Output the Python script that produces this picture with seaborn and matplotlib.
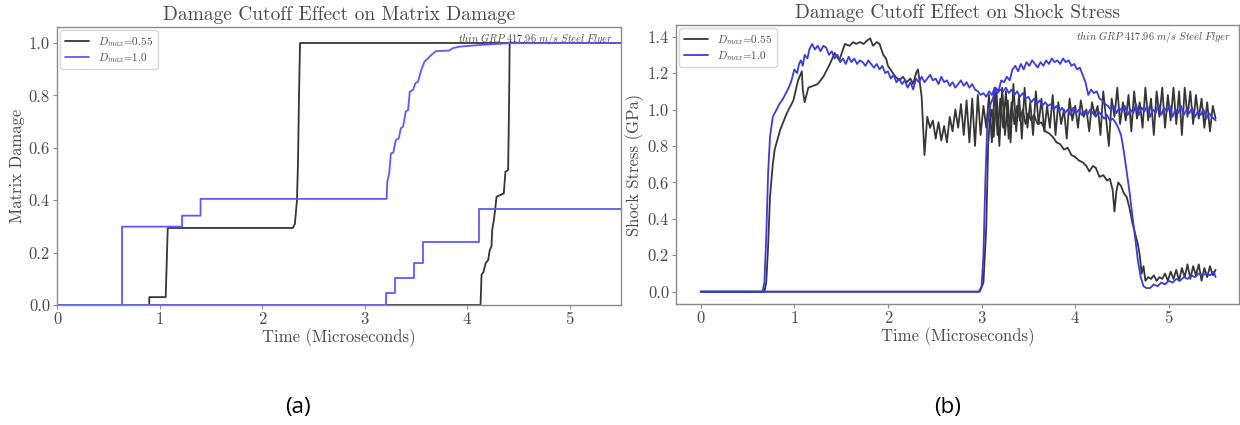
import numpy as np
import pandas as pd
import matplotlib
matplotlib.use("Agg")
import matplotlib.pyplot as plt
import seaborn as sns

# ---------------- data: panel (a) Matrix Damage ----------------
a_black1_t = [0.0, 0.90, 0.90, 1.06, 1.08, 2.30, 2.32, 2.34, 2.35, 2.36, 2.37, 5.5]
a_black1_v = [0.0, 0.0, 0.03, 0.03, 0.294, 0.294, 0.31, 0.40, 0.54, 0.80, 1.0, 1.0]

a_black2_t = [0.0, 4.13, 4.14, 4.16, 4.18, 4.205, 4.22, 4.237, 4.244, 4.26,
              4.276, 4.286, 4.324, 4.357, 4.373, 4.399, 4.405, 4.411, 4.414, 5.5]
a_black2_v = [0.0, 0.0, 0.115, 0.127, 0.159, 0.172, 0.21, 0.223, 0.286, 0.324,
              0.375, 0.413, 0.42, 0.426, 0.509, 0.515, 0.668, 0.859, 1.0, 1.0]

a_blue1_t = [0.0, 0.634, 0.634, 1.22, 1.22, 1.40, 1.40,
             3.214, 3.221, 3.24, 3.256, 3.279, 3.304, 3.333, 3.352, 3.375,
             3.401, 3.424, 3.44, 3.472, 3.494, 3.52, 3.552, 3.584, 3.617,
             3.649, 3.697, 3.825, 3.858, 3.922, 4.115, 4.405, 5.5]
a_blue1_v = [0.0, 0.0, 0.299, 0.299, 0.341, 0.341, 0.405,
             0.405, 0.471, 0.503, 0.579, 0.581, 0.630, 0.636, 0.674, 0.681,
             0.738, 0.744, 0.814, 0.821, 0.846, 0.852, 0.897, 0.929, 0.941,
             0.954, 0.969, 0.971, 0.980, 0.986, 0.992, 0.999, 1.0]

a_blue2_t = [0.0, 3.208, 3.208, 3.30, 3.30, 3.48, 3.48, 3.568, 3.568, 4.115, 4.115, 5.5]
a_blue2_v = [0.0, 0.0, 0.045, 0.045, 0.102, 0.102, 0.161, 0.161, 0.242, 0.242, 0.365, 0.365]

# ---------------- data: panel (b) Shock Stress ----------------
b_black1_t = [0.00, 0.68, 0.70, 0.72, 0.74, 0.77, 0.79, 0.85, 0.92, 0.99,
              1.04, 1.08, 1.09, 1.11, 1.15, 1.20, 1.25, 1.31, 1.38, 1.43,
              1.48, 1.54, 1.59, 1.63, 1.66, 1.70, 1.74, 1.78, 1.81, 1.84,
              1.88, 1.91, 1.95, 1.98, 2.00, 2.04, 2.08, 2.12, 2.16, 2.20,
              2.24, 2.27, 2.30, 2.32, 2.34, 2.36, 2.38, 2.39, 2.42, 2.45,
              2.48, 2.51, 2.54, 2.57, 2.60, 2.63, 2.66, 2.69, 2.72, 2.75,
              2.78, 2.81, 2.84, 2.87, 2.90, 2.93, 2.96, 2.99, 3.02, 3.05,
              3.08, 3.11, 3.14, 3.17, 3.20, 3.23, 3.26, 3.29, 3.32, 3.35,
              3.38, 3.41, 3.44, 3.47, 3.50, 3.53, 3.56, 3.60, 3.64, 3.68,
              3.72, 3.76, 3.80, 3.84, 3.88, 3.92, 3.96, 4.00, 4.04, 4.08,
              4.12, 4.15, 4.19, 4.22, 4.26, 4.30, 4.34, 4.37, 4.40, 4.42,
              4.44, 4.46, 4.49, 4.52, 4.55, 4.58, 4.61, 4.64, 4.67, 4.69,
              4.71, 4.73, 4.75, 4.78, 4.81, 4.84, 4.87, 4.90, 4.93, 4.96,
              4.99, 5.02, 5.05, 5.08, 5.11, 5.14, 5.17, 5.20, 5.23, 5.26,
              5.29, 5.32, 5.35, 5.38, 5.41, 5.44, 5.47, 5.50]
b_black1_v = [0.00, 0.00, 0.05, 0.25, 0.52, 0.70, 0.78, 0.89, 0.98, 1.05,
              1.16, 1.21, 1.11, 1.04, 1.12, 1.13, 1.14, 1.18, 1.25, 1.31,
              1.27, 1.36, 1.35, 1.37, 1.36, 1.37, 1.36, 1.38, 1.39, 1.35,
              1.37, 1.36, 1.30, 1.28, 1.24, 1.21, 1.18, 1.16, 1.18, 1.15,
              1.17, 1.14, 1.20, 1.22, 1.15, 1.07, 0.85, 0.75, 0.96, 0.90,
              0.94, 0.84, 0.93, 0.83, 0.91, 0.82, 0.96, 0.88, 1.00, 0.90,
              1.03, 0.86, 1.05, 0.82, 1.06, 0.80, 1.08, 0.86, 1.02, 0.90,
              1.08, 0.82, 1.12, 0.86, 1.06, 0.90, 1.10, 0.84, 1.04, 0.92,
              1.02, 0.94, 1.00, 0.92, 0.98, 0.94, 0.97, 0.92, 0.93, 0.88,
              0.87, 0.85, 0.82, 0.81, 0.78, 0.79, 0.75, 0.74, 0.72, 0.71,
              0.69, 0.66, 0.69, 0.68, 0.63, 0.64, 0.61, 0.62, 0.56, 0.44,
              0.55, 0.60, 0.58, 0.54, 0.52, 0.46, 0.38, 0.32, 0.26, 0.20,
              0.10, 0.14, 0.06, 0.08, 0.07, 0.09, 0.06, 0.08, 0.07, 0.10,
              0.06, 0.11, 0.07, 0.12, 0.06, 0.13, 0.08, 0.15, 0.07, 0.14,
              0.09, 0.15, 0.06, 0.13, 0.08, 0.14, 0.09, 0.12]

b_black2_t = [0.00, 2.98, 3.02, 3.05, 3.07, 3.09, 3.11,
              3.13, 3.16, 3.19, 3.22, 3.25, 3.28, 3.31, 3.34, 3.37, 3.40,
              3.43, 3.46, 3.49, 3.52, 3.55, 3.58, 3.61, 3.64, 3.67, 3.70,
              3.73, 3.76, 3.79, 3.82, 3.85, 3.88, 3.91, 3.94, 3.97, 4.00,
              4.03, 4.06, 4.09, 4.12, 4.15, 4.18, 4.21, 4.24, 4.27, 4.30,
              4.33, 4.36, 4.39, 4.42, 4.45, 4.48, 4.51, 4.54, 4.57, 4.60,
              4.63, 4.66, 4.69, 4.72, 4.75, 4.78, 4.81, 4.84, 4.87, 4.90,
              4.93, 4.96, 4.99, 5.02, 5.05, 5.08, 5.11, 5.14, 5.17, 5.20,
              5.23, 5.26, 5.29, 5.32, 5.35, 5.38, 5.41, 5.44, 5.47, 5.50]
b_black2_v = [0.00, 0.00, 0.05, 0.35, 0.80, 0.95, 1.00,
              0.85, 1.10, 0.80, 1.12, 0.86, 1.05, 0.82, 1.14, 0.88, 1.08,
              0.84, 1.12, 0.90, 1.04, 0.86, 1.10, 0.92, 1.06, 0.88, 1.02,
              0.90, 1.08, 0.86, 1.04, 0.92, 1.00, 0.84, 1.06, 0.94, 1.02,
              0.90, 1.05, 0.96, 1.00, 0.88, 1.04, 0.97, 1.02, 0.86, 1.10,
              0.95, 0.80, 1.06, 0.96, 1.12, 0.92, 1.04, 0.94, 1.08, 0.88,
              1.10, 0.95, 1.04, 0.90, 1.12, 0.94, 1.06, 0.86, 1.10, 0.96,
              1.12, 0.90, 1.08, 0.94, 1.12, 0.92, 1.10, 0.86, 1.12, 0.96,
              1.10, 0.92, 1.08, 0.95, 1.06, 0.90, 1.04, 0.88, 1.02, 0.95]

b_blue1_t = [0.00, 0.66, 0.68, 0.70, 0.72, 0.74, 0.77, 0.80, 0.84, 0.88,
             0.91, 0.94, 0.97, 1.00, 1.03, 1.05, 1.07, 1.09, 1.11, 1.14,
             1.16, 1.19, 1.22, 1.25, 1.28, 1.31, 1.34, 1.37, 1.40, 1.43,
             1.46, 1.49, 1.52, 1.55, 1.58, 1.61, 1.64, 1.67, 1.70, 1.73,
             1.76, 1.79, 1.82, 1.85, 1.88, 1.91, 1.94, 1.97, 2.00, 2.03,
             2.06, 2.09, 2.12, 2.15, 2.18, 2.21, 2.24, 2.27, 2.30, 2.33,
             2.36, 2.39, 2.42, 2.45, 2.48, 2.51, 2.54, 2.57, 2.60, 2.63,
             2.66, 2.69, 2.72, 2.75, 2.78, 2.81, 2.84, 2.87, 2.90, 2.93,
             2.96, 2.99, 3.02, 3.05, 3.08, 3.11, 3.14, 3.17, 3.20, 3.23,
             3.26, 3.29, 3.32, 3.35, 3.38, 3.41, 3.44, 3.47, 3.50, 3.53,
             3.56, 3.59, 3.62, 3.65, 3.68, 3.71, 3.74, 3.77, 3.80, 3.83,
             3.86, 3.89, 3.92, 3.95, 3.98, 4.01, 4.04, 4.07, 4.10, 4.13,
             4.16, 4.19, 4.22, 4.25, 4.28, 4.31, 4.34, 4.37, 4.40, 4.43,
             4.46, 4.49, 4.52, 4.55, 4.58, 4.61, 4.64, 4.67, 4.70, 4.73,
             4.76, 4.80, 4.84, 4.88, 4.92, 4.96, 5.00, 5.04, 5.08, 5.12,
             5.16, 5.20, 5.24, 5.28, 5.32, 5.36, 5.40, 5.44, 5.48, 5.50]
b_blue1_v = [0.00, 0.00, 0.05, 0.30, 0.65, 0.85, 0.96, 0.99, 1.03, 1.06,
             1.09, 1.12, 1.16, 1.22, 1.20, 1.25, 1.27, 1.24, 1.30, 1.28,
             1.33, 1.36, 1.33, 1.35, 1.32, 1.35, 1.34, 1.30, 1.32, 1.28,
             1.30, 1.26, 1.28, 1.25, 1.29, 1.26, 1.28, 1.25, 1.27, 1.26,
             1.24, 1.27, 1.25, 1.23, 1.25, 1.22, 1.24, 1.20, 1.21, 1.17,
             1.19, 1.15, 1.17, 1.14, 1.16, 1.12, 1.15, 1.11, 1.17, 1.15,
             1.18, 1.15, 1.17, 1.19, 1.16, 1.17, 1.14, 1.18, 1.15, 1.16,
             1.13, 1.15, 1.12, 1.14, 1.16, 1.13, 1.15, 1.12, 1.14, 1.11,
             1.10, 1.08, 1.09, 1.07, 1.10, 1.08, 1.12, 1.09, 1.11, 1.10,
             1.12, 1.09, 1.11, 1.08, 1.10, 1.07, 1.09, 1.06, 1.07, 1.04,
             1.06, 1.03, 1.05, 1.02, 1.04, 1.02, 1.03, 1.00, 1.02, 0.99,
             1.01, 0.98, 1.00, 0.97, 1.01, 0.98, 1.00, 0.97, 0.99, 0.97,
             1.00, 0.98, 0.96, 0.99, 0.97, 0.95, 0.97, 0.94, 0.95, 0.93,
             0.90, 0.86, 0.77, 0.66, 0.55, 0.42, 0.30, 0.17, 0.08, 0.03,
             0.02, 0.02, 0.04, 0.03, 0.05, 0.04, 0.06, 0.05, 0.07, 0.06,
             0.08, 0.07, 0.09, 0.08, 0.10, 0.09, 0.10, 0.09, 0.11, 0.08]

b_blue2_t = [0.00, 2.97, 3.00, 3.02, 3.04, 3.06, 3.09, 3.12, 3.15, 3.18,
             3.21, 3.24, 3.27, 3.30, 3.33, 3.36, 3.39, 3.42, 3.45, 3.48,
             3.51, 3.54, 3.57, 3.60, 3.63, 3.66, 3.69, 3.72, 3.75, 3.78,
             3.81, 3.84, 3.87, 3.90, 3.93, 3.96, 3.99, 4.02, 4.05, 4.08,
             4.11, 4.14, 4.17, 4.20, 4.23, 4.26, 4.29, 4.32, 4.35, 4.38,
             4.41, 4.44, 4.47, 4.50, 4.53, 4.56, 4.59, 4.62, 4.65, 4.68,
             4.71, 4.74, 4.77, 4.80, 4.83, 4.86, 4.89, 4.92, 4.95, 4.98,
             5.01, 5.04, 5.07, 5.10, 5.13, 5.16, 5.19, 5.22, 5.25, 5.28,
             5.31, 5.34, 5.37, 5.40, 5.43, 5.46, 5.50]
b_blue2_v = [0.00, 0.00, 0.03, 0.20, 0.60, 0.90, 1.02, 1.06, 1.12, 1.10,
             1.16, 1.15, 1.18, 1.16, 1.22, 1.24, 1.21, 1.25, 1.22, 1.26,
             1.24, 1.27, 1.25, 1.23, 1.26, 1.24, 1.27, 1.25, 1.28, 1.26,
             1.27, 1.25, 1.28, 1.26, 1.27, 1.24, 1.25, 1.22, 1.23, 1.19,
             1.15, 1.08, 1.11, 1.09, 1.10, 1.06, 1.05, 1.03, 1.02, 1.00,
             1.02, 0.98, 1.01, 0.99, 1.02, 0.97, 1.00, 0.98, 1.03, 0.97,
             1.01, 0.99, 1.02, 0.96, 1.00, 0.98, 1.03, 0.97, 1.01, 0.99,
             1.02, 0.96, 1.00, 0.98, 1.02, 0.97, 1.00, 0.98, 1.01, 0.96,
             0.99, 0.97, 1.00, 0.95, 0.98, 0.96, 0.94]

legend_labels = [r"$D_{max}$=0.55", r"$D_{max}$=1.0"]
titles = ["Damage Cutoff Effect on Matrix Damage", "Damage Cutoff Effect on Shock Stress"]
ylabels = ["Matrix Damage", "Shock Stress (GPa)"]
xlabel = "Time (Microseconds)"
note = r"$\mathit{thin\ GRP\ 417.96\ m/s\ Steel\ Flyer}$"
panel_tags = ["(a)", "(b)"]

# ---------------- style ----------------
sns.set_style("ticks")
plt.rcParams["font.family"] = ["cmr10", "DejaVu Serif"]
plt.rcParams["mathtext.fontset"] = "cm"
plt.rcParams["axes.formatter.use_mathtext"] = True
plt.rcParams["axes.unicode_minus"] = False

TXT = "#4a4a4a"
SPINE = "#8a8a8a"
BLACK = "#363636"
BLUE_A = "#5a5aff"
BLUE_B = "#3c3cdc"

fig = plt.figure(figsize=(12.4, 4.25), dpi=100)
W, H = 1240.0, 425.0
ax1 = fig.add_axes([57 / W, 1 - 305 / H, (621 - 57) / W, (305 - 27) / H])
ax2 = fig.add_axes([676 / W, 1 - 304 / H, (1239 - 676) / W, (304 - 25) / H])


def draw(ax, t, v, color, lw, label=None):
    df = pd.DataFrame({"t": t, "v": v})
    sns.lineplot(data=df, x="t", y="v", ax=ax, color=color, lw=lw,
                 sort=False, estimator=None, label=label)


# panel (a)
draw(ax1, a_black1_t, a_black1_v, BLACK, 1.3, legend_labels[0])
draw(ax1, a_black2_t, a_black2_v, BLACK, 1.3)
draw(ax1, a_blue1_t, a_blue1_v, BLUE_A, 1.3, legend_labels[1])
draw(ax1, a_blue2_t, a_blue2_v, BLUE_A, 1.3)
ax1.set_xlim(0, 5.5)
ax1.set_ylim(0, 1.061)
ax1.set_yticks([0.0, 0.2, 0.4, 0.6, 0.8, 1.0])
ax1.set_xticks([0, 1, 2, 3, 4, 5])

# panel (b)
draw(ax2, b_black1_t, b_black1_v, BLACK, 1.3, legend_labels[0])
draw(ax2, b_black2_t, b_black2_v, BLACK, 1.3)
draw(ax2, b_blue1_t, b_blue1_v, BLUE_B, 1.3, legend_labels[1])
draw(ax2, b_blue2_t, b_blue2_v, BLUE_B, 1.3)
ax2.set_xlim(-0.264, 5.75)
ax2.set_ylim(-0.0675, 1.464)
ax2.set_yticks([0.0, 0.2, 0.4, 0.6, 0.8, 1.0, 1.2, 1.4])
ax2.set_xticks([0, 1, 2, 3, 4, 5])

for i, ax in enumerate([ax1, ax2]):
    ax.set_title(titles[i], fontsize=14, color=TXT, pad=5)
    ax.set_xlabel(xlabel, fontsize=12, color=TXT, labelpad=1)
    ax.set_ylabel(ylabels[i], fontsize=12, color=TXT, labelpad=3)
    ax.tick_params(axis="both", labelsize=12, colors=TXT, length=3,
                   width=0.8, color=SPINE, pad=2)
    for s in ax.spines.values():
        s.set_color(SPINE)
        s.set_linewidth(1.0)
    ax.yaxis.set_major_formatter(matplotlib.ticker.FormatStrFormatter("%.1f"))
    ax.xaxis.set_major_formatter(matplotlib.ticker.FormatStrFormatter("%d"))
    leg = ax.legend(loc="upper left", fontsize=8, frameon=True,
                    handlelength=2.2, borderpad=0.4, labelspacing=0.2,
                    borderaxespad=0.3, fancybox=True)
    leg.get_frame().set_edgecolor("#cccccc")
    for txt in leg.get_texts():
        txt.set_color(TXT)
    ax.text(0.985, 0.985, note, transform=ax.transAxes, ha="right", va="top",
            fontsize=7.5, color=TXT)

fig.text(298 / W, 1 - 408 / H, panel_tags[0], ha="center", va="center",
         fontsize=16, family=["Open Sans", "DejaVu Sans"], color="black")
fig.text(948 / W, 1 - 408 / H, panel_tags[1], ha="center", va="center",
         fontsize=16, family=["Open Sans", "DejaVu Sans"], color="black")

fig.savefig("out.png", dpi=100, facecolor="white")
